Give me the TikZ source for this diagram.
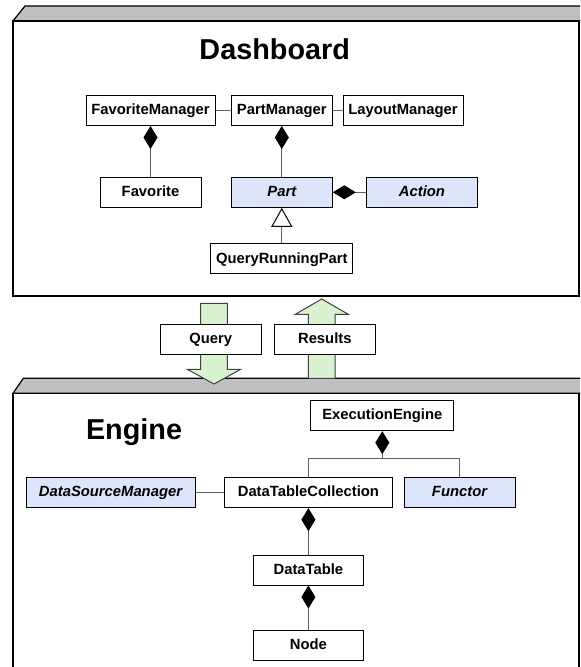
\documentclass[tikz,border=0pt]{standalone}
\usepackage{fontspec}
\setmainfont{Liberation Sans}
\usetikzlibrary{arrows.meta}

\definecolor{absfill}{HTML}{DDE5FA}
\definecolor{flowfill}{HTML}{D9F2D0}
\definecolor{pkgband}{HTML}{C0C0C0}
\definecolor{linkgray}{HTML}{606060}

\tikzset{
  cls/.style={draw=black, line width=0.5pt, fill=white, minimum height=15pt,
    inner sep=0pt, text height=5.6pt, text depth=1.4pt,
    font=\fontsize{7.4}{8}\selectfont\bfseries},
  abscls/.style={cls, fill=absfill, font=\fontsize{7.4}{8}\selectfont\bfseries\itshape},
  link/.style={draw=linkgray, line width=0.5pt},
  comp/.style={link, -{Diamond[length=11.5pt,width=7pt,color=black]}},
  inherit/.style={link, -{Triangle[open,length=9.5pt,width=10.5pt,color=black,fill=white]}},
  pkgtitle/.style={inner sep=0pt, font=\fontsize{14.4}{16}\selectfont\bfseries},
  band/.style={draw=black, line width=0.6pt, fill=pkgband},
  pkgbody/.style={draw=black, line width=0.6pt, fill=white},
  flow/.style={draw=black!75, line width=0.5pt, fill=flowfill}
}

\begin{document}
\begin{tikzpicture}[x=0.5pt,y=-0.5pt]
\useasboundingbox (0,0) rectangle (580,667);
\clip (0,0) rectangle (580,667);

\draw[band] (13,21) -- (25,6) -- (590,6) -- (590,21) -- cycle;
\draw[pkgbody] (13,21) rectangle (579,296);
\draw[band] (13,393.3) -- (23.3,378.3) -- (590,378.3) -- (590,393.3) -- cycle;
\draw[pkgbody] (13,393.3) rectangle (579,690);

\node[pkgtitle, anchor=base] (dashtitle) at (274.7,60) {Dashboard};
\node[pkgtitle, anchor=base] (enginetitle) at (134,439.3) {Engine};

\node[cls, minimum width=64.5pt] (favmgr) at (150.5,110.5) {FavoriteManager};
\node[cls, minimum width=50.5pt] (partmgr) at (281.8,110.5) {PartManager};
\node[cls, minimum width=60pt] (layoutmgr) at (403,110.5) {LayoutManager};
\node[cls, minimum width=50.5pt] (fav) at (150.5,192.3) {Favorite};
\node[abscls, minimum width=50.5pt] (part) at (281.8,192.3) {Part};
\node[abscls, minimum width=55.3pt] (action) at (422,192.3) {Action};
\node[cls, minimum width=71pt] (qrpart) at (281.8,259) {QueryRunningPart};

\draw[link] (favmgr.east) -- (partmgr.west);
\draw[link] (partmgr.east) -- (layoutmgr.west);
\draw[comp] (fav.north) -- (favmgr.south);
\draw[comp] (part.north) -- (partmgr.south);
\draw[comp] (action.west) -- (part.east);
\draw[inherit] (qrpart.north) -- (part.south);

\draw[flow] (200.7,303.3) -- (227.3,303.3) -- (227.3,369.3) -- (240.7,369.3)
  -- (214,384) -- (187.3,369.3) -- (200.7,369.3) -- cycle;
\draw[flow] (308.3,378.3) -- (335,378.3) -- (335,314.3) -- (348.3,314.3)
  -- (321.7,299) -- (295.3,314.3) -- (308.3,314.3) -- cycle;
\node[cls, minimum width=50.2pt] (query) at (210.8,339.2) {Query};
\node[cls, minimum width=50.5pt] (results) at (324.8,339.2) {Results};

\node[cls, minimum width=71.5pt] (exec) at (382.3,415.7) {ExecutionEngine};
\node[abscls, minimum width=84.5pt] (dsm) at (110.5,492.7) {DataSourceManager};
\node[cls, minimum width=83.8pt] (dtc) at (308.4,492.7) {DataTableCollection};
\node[abscls, minimum width=55.5pt] (functor) at (459.5,492.7) {Functor};
\node[cls, minimum width=55.3pt] (dtable) at (308.4,570) {DataTable};
\node[cls, minimum width=55.3pt] (dnode) at (308.4,645.7) {Node};

\coordinate (join) at ([yshift=-13.8pt]exec.south);
\draw[comp] (join) -- (exec.south);
\draw[link] (dtc.north) |- (join) -| (functor.north);
\draw[link] (dsm.east) -- (dtc.west);
\draw[comp] (dtable.north) -- (dtc.south);
\draw[comp] (dnode.north) -- (dtable.south);
\end{tikzpicture}
\end{document}
